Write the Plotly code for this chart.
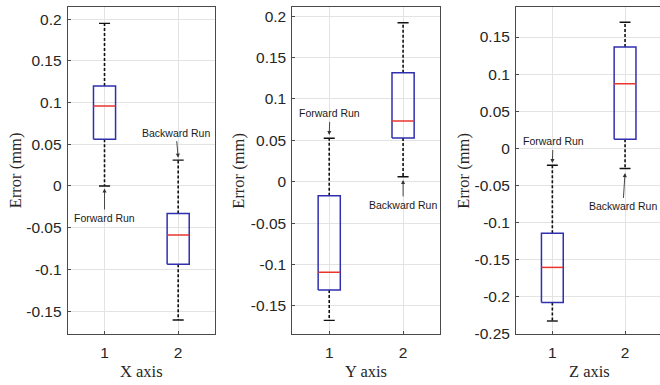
import plotly.graph_objects as go

# ---------------- data ----------------
groups = [1, 2]
group_labels = ["1", "2"]
panel_titles = ["X axis", "Y axis", "Z axis"]

# X axis panel
x_lower = [0.000, -0.1607]
x_q1 = [0.056, -0.094]
x_median = [0.096, -0.0588]
x_q3 = [0.120, -0.033]
x_upper = [0.195, 0.031]

# Y axis panel
y_lower = [-0.1674, 0.006]
y_q1 = [-0.1308, 0.0528]
y_median = [-0.1094, 0.0733]
y_q3 = [-0.0169, 0.1316]
y_upper = [0.0524, 0.192]

# Z axis panel
z_lower = [-0.2325, -0.0272]
z_q1 = [-0.2077, 0.0124]
z_median = [-0.1603, 0.0869]
z_q3 = [-0.1143, 0.1365]
z_upper = [-0.0227, 0.1698]

ticks_xy = [-0.15, -0.1, -0.05, 0, 0.05, 0.1, 0.15, 0.2]
ticklabels_xy = ["-0.15", "-0.1", "-0.05", "0", "0.05", "0.1", "0.15", "0.2"]
ticks_z = [-0.25, -0.2, -0.15, -0.1, -0.05, 0, 0.05, 0.1, 0.15]
ticklabels_z = ["-0.25", "-0.2", "-0.15", "-0.1", "-0.05", "0", "0.05", "0.1", "0.15"]

# ---------------- styling ----------------
W, H = 660, 385
BOX_HALF = 0.15
CAP_HALF = 0.075
BOX_COLOR = "#2f2fb0"
MED_COLOR = "#e8362f"
WHISK_COLOR = "#111111"
AXIS_COLOR = "#4a4a4a"
GRID_COLOR = "#e3e3e3"
TEXT_COLOR = "#262626"
SANS = "Liberation Sans, Arial, sans-serif"
SERIF = "Liberation Serif, Times New Roman, serif"

panels = [
    dict(lo=x_lower, q1=x_q1, med=x_median, q3=x_q3, hi=x_upper,
         xdom=[67.7 / W, 215 / W], xr=[0.5, 2.5], yr=[-0.1775, 0.2143],
         tv=ticks_xy, tt=ticklabels_xy, ytitle_x=15.5 / W, xtitle_x=141.5 / W),
    dict(lo=y_lower, q1=y_q1, med=y_median, q3=y_q3, hi=y_upper,
         xdom=[292.3 / W, 440 / W], xr=[0.5, 2.5], yr=[-0.1839, 0.2106],
         tv=ticks_xy, tt=ticklabels_xy, ytitle_x=239 / W, xtitle_x=366 / W),
    dict(lo=z_lower, q1=z_q1, med=z_median, q3=z_q3, hi=z_upper,
         xdom=[516 / W, 1.0], xr=[0.5, 0.5 + (W - 516) / 72.7], yr=[-0.25, 0.19],
         tv=ticks_z, tt=ticklabels_z, ytitle_x=464 / W, xtitle_x=589 / W),
]

YDOM = [1 - 334 / H, 1 - 7.3 / H]

fig = go.Figure()
layout = dict(
    width=W, height=H, margin=dict(l=0, r=0, t=0, b=0, autoexpand=False),
    paper_bgcolor="white", plot_bgcolor="white", showlegend=False,
)
annotations = []

for i, p in enumerate(panels):
    idx = "" if i == 0 else str(i + 1)
    xa, ya = "x" + idx, "y" + idx
    for g, lo, q1, med, q3, hi in zip(groups, p["lo"], p["q1"], p["med"], p["q3"], p["hi"]):
        # whiskers (dashed)
        fig.add_trace(go.Scatter(x=[g, g, None, g, g], y=[q3, hi, None, q1, lo], mode="lines",
                                 line=dict(color=WHISK_COLOR, width=1.6, dash="3px,2px"),
                                 xaxis=xa, yaxis=ya, hoverinfo="skip"))
        # caps
        fig.add_trace(go.Scatter(x=[g - CAP_HALF, g + CAP_HALF, None, g - CAP_HALF, g + CAP_HALF],
                                 y=[hi, hi, None, lo, lo], mode="lines",
                                 line=dict(color=WHISK_COLOR, width=1.4),
                                 xaxis=xa, yaxis=ya, hoverinfo="skip"))
        # box
        fig.add_trace(go.Scatter(x=[g - BOX_HALF, g + BOX_HALF, g + BOX_HALF, g - BOX_HALF, g - BOX_HALF],
                                 y=[q1, q1, q3, q3, q1], mode="lines",
                                 line=dict(color=BOX_COLOR, width=1.5),
                                 xaxis=xa, yaxis=ya, hoverinfo="skip"))
        # median
        fig.add_trace(go.Scatter(x=[g - BOX_HALF, g + BOX_HALF], y=[med, med], mode="lines",
                                 line=dict(color=MED_COLOR, width=1.5),
                                 xaxis=xa, yaxis=ya, hoverinfo="skip"))

    layout["xaxis" + idx] = dict(
        domain=p["xdom"], range=p["xr"], anchor=ya, tickvals=groups, ticktext=group_labels,
        showgrid=True, gridcolor=GRID_COLOR, gridwidth=1, zeroline=False, automargin=False,
        showline=True, linecolor=AXIS_COLOR, linewidth=1, mirror=True,
        ticks="inside", ticklen=3, tickcolor=AXIS_COLOR, ticklabelstandoff=4,
        tickfont=dict(family=SANS, size=15.5, color=TEXT_COLOR), fixedrange=True,
    )
    layout["yaxis" + idx] = dict(
        domain=YDOM, range=p["yr"], anchor=xa, tickvals=p["tv"], ticktext=p["tt"],
        showgrid=True, gridcolor=GRID_COLOR, gridwidth=1, zeroline=False, automargin=False,
        showline=True, linecolor=AXIS_COLOR, linewidth=1, mirror=(i < 2),
        ticks="inside", ticklen=3, tickcolor=AXIS_COLOR, ticklabelstandoff=2,
        tickfont=dict(family=SANS, size=15.5, color=TEXT_COLOR), fixedrange=True,
    )
    annotations.append(dict(text="Error (mm)", xref="paper", yref="paper", x=p["ytitle_x"],
                            y=1 - 170.7 / H, textangle=-90, showarrow=False,
                            xanchor="center", yanchor="middle",
                            font=dict(family=SERIF, size=16.5, color=TEXT_COLOR)))
    annotations.append(dict(text=panel_titles[i], xref="paper", yref="paper", x=p["xtitle_x"],
                            y=1 - 371.7 / H, showarrow=False, xanchor="center", yanchor="middle",
                            font=dict(family=SERIF, size=16.5, color=TEXT_COLOR)))

# ---------------- "Forward Run" / "Backward Run" callouts ----------------
def callout(text, xa, ya, gx, head_y, text_x, text_y):
    return dict(text=text, xref=xa, yref=ya, axref=xa, ayref=ya, x=gx, y=head_y,
                ax=text_x, ay=text_y, showarrow=True, arrowhead=2, arrowsize=0.9,
                arrowwidth=0.9, arrowcolor="#333333", standoff=0, startstandoff=1,
                font=dict(family=SANS, size=10.5, color="#1a1a1a"))

annotations += [
    callout("Forward Run", "x", "y", groups[0], x_lower[0] - 0.003, groups[0], x_lower[0] - 0.0384),
    callout("Backward Run", "x", "y", groups[1], x_upper[1] + 0.003, groups[1] - 0.03, x_upper[1] + 0.033),
    callout("Forward Run", "x2", "y2", groups[0], y_upper[0] + 0.004, groups[0] + 0.01, y_upper[0] + 0.030),
    callout("Backward Run", "x2", "y2", groups[1], y_lower[1] - 0.004, groups[1], y_lower[1] - 0.034),
    callout("Forward Run", "x3", "y3", groups[0], z_upper[0] + 0.003, groups[0] + 0.01, z_upper[0] + 0.032),
    callout("Backward Run", "x3", "y3", groups[1], z_lower[1] - 0.006, groups[1] - 0.03, z_lower[1] - 0.051),
]

layout["annotations"] = annotations
fig.update_layout(**layout)
fig.write_html("out.html", post_script="document.body.style.margin='0';",
               config={"displayModeBar": False})
